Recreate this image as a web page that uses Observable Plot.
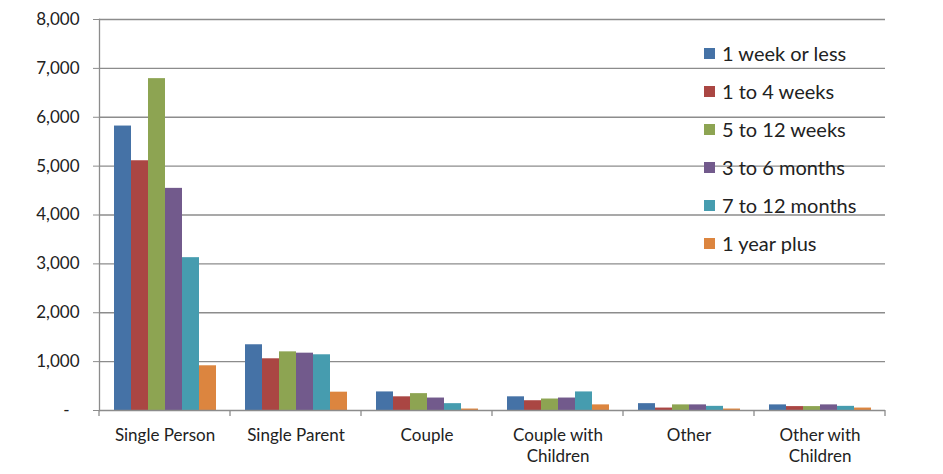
<!DOCTYPE html>
<html>
<head>
<meta charset="utf-8">
<script src="https://cdn.jsdelivr.net/npm/d3@7"></script>
<script src="https://cdn.jsdelivr.net/npm/@observablehq/plot@0.6"></script>
<style>
  html, body { margin: 0; padding: 0; background: #fff; }
  #wrap { position: relative; width: 943px; height: 474px; font-family: Lato, "Open Sans", sans-serif; }
  #legend { position: absolute; left: 704px; top: 34px; }
  .row { display: flex; align-items: center; height: 38px; font-size: 20px; color: #222; }
  .sw { width: 11px; height: 11px; margin-right: 7px; }
</style>
</head>
<body>
<div id="wrap"></div>
<script>
const categories = ["Single Person", "Single Parent", "Couple", "Couple with Children", "Other", "Other with Children"];
const durations = ["1 week or less", "1 to 4 weeks", "5 to 12 weeks", "3 to 6 months", "7 to 12 months", "1 year plus"];
const colors = ["#4572A6", "#AA4643", "#8DA452", "#725A8C", "#469CAF", "#DC853F"];

const weekOrLess   = [5820, 1345, 380, 280, 140, 115];
const oneToFourWk  = [5110, 1058, 280, 200,  50,  80];
const fiveTo12Wk   = [6790, 1200, 345, 235, 115,  80];
const threeTo6Mo   = [4545, 1173, 255, 255, 115, 115];
const sevenTo12Mo  = [3127, 1140, 140, 380,  85,  85];
const yearPlus     = [ 915,  375,  30, 115,  30,  50];
const series = [weekOrLess, oneToFourWk, fiveTo12Wk, threeTo6Mo, sevenTo12Mo, yearPlus];

const yTicks = [0, 1000, 2000, 3000, 4000, 5000, 6000, 7000, 8000];

const data = [];
categories.forEach((c, i) => durations.forEach((d, j) => data.push({category: c, duration: d, value: series[j][i]})));

const chart = Plot.plot({
  width: 943,
  height: 474,
  marginLeft: 96,
  marginRight: 56,
  marginTop: 19,
  marginBottom: 64,
  style: {fontFamily: "Lato, 'Open Sans', sans-serif", fontSize: "17px", background: "#fff"},
  fx: {domain: categories, padding: 0, label: null},
  x: {domain: durations, paddingInner: 0, paddingOuter: 0.76, axis: null},
  y: {domain: [0, 8000], label: null},
  color: {domain: durations, range: colors},
  marks: [
    Plot.ruleY(yTicks.slice(1), {stroke: "#8c8c8c", strokeWidth: 1.3}),
    Plot.barY(data, {fx: "category", x: "duration", y: "value", fill: "duration"}),
    Plot.ruleY([0], {stroke: "#8c8c8c", strokeWidth: 1.3}),
    Plot.frame({anchor: "left", facetAnchor: "left", stroke: "#8c8c8c", strokeWidth: 1.3}),
    Plot.axisY({ticks: yTicks, tickSize: 6, tickPadding: 14, stroke: "#8c8c8c", fill: "#222", fontSize: 17, label: null,
      tickFormat: d => d === 0 ? "-\u2007" : d3.format(",")(d)}),
    Plot.axisFx({anchor: "bottom", tickSize: 0, tickPadding: 15, fill: "#222", fontSize: 17, lineHeight: 1.26, label: null,
      tickFormat: d => d.replace(" with ", " with\n")})
  ]
});

// category boundary tick marks on the x axis, placed via the fx scale
const fx = chart.scale("fx");
const yScale = chart.scale("y");
const y0 = yScale.apply(0);
const edges = categories.map(c => fx.apply(c));
edges.push(fx.apply(categories[categories.length - 1]) + fx.bandwidth);
const svg = d3.select(chart);
edges.forEach(x => {
  svg.append("line").attr("x1", x).attr("x2", x).attr("y1", y0).attr("y2", y0 + 6)
    .attr("stroke", "#8c8c8c").attr("stroke-width", 1.3);
});

const wrap = document.getElementById("wrap");
wrap.appendChild(chart);

const legend = document.createElement("div");
legend.id = "legend";
durations.forEach((d, i) => {
  const row = document.createElement("div");
  row.className = "row";
  const sw = document.createElement("span");
  sw.className = "sw";
  sw.style.background = colors[i];
  const t = document.createElement("span");
  t.textContent = d;
  row.appendChild(sw);
  row.appendChild(t);
  legend.appendChild(row);
});
wrap.appendChild(legend);
</script>
</body>
</html>
